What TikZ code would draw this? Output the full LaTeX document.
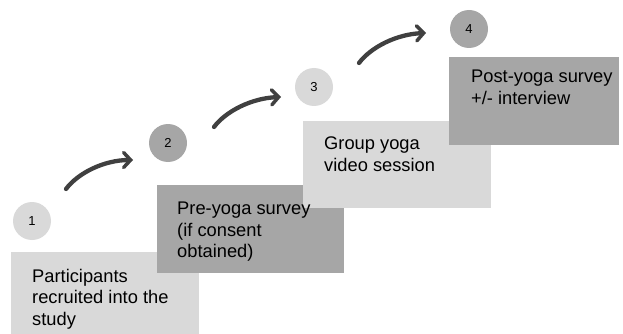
\documentclass[tikz,border=0pt]{standalone}
\usepackage{fontspec}
\setmainfont{Liberation Sans}
\usetikzlibrary{arrows.meta,calc}
\definecolor{lightbox}{HTML}{D9D9D9}
\definecolor{darkbox}{HTML}{A6A6A6}
\definecolor{arrowcol}{HTML}{404040}
\begin{document}
\begin{tikzpicture}[x=1pt,y=-1pt,
  stepbox/.style={rectangle,inner sep=0pt,anchor=north west,draw=none},
  steptext/.style={inner sep=0pt,anchor=north west,align=left,font=\fontsize{18.3}{21.5}\selectfont,text=black},
  num/.style={circle,inner sep=0pt,minimum size=38pt,font=\fontsize{13}{15}\selectfont,text=black},
  arr/.style={draw=arrowcol,line width=4.3pt,line cap=round,-{Straight Barb[length=7pt,width=15pt,line width=3.5pt,line cap=round]}}
]
\useasboundingbox (0,0) rectangle (623,334);
% boxes
\node[stepbox,fill=lightbox,minimum width=188pt,minimum height=82pt] (b1) at (11,252) {};
\node[stepbox,fill=darkbox,minimum width=187pt,minimum height=88pt] (b2) at (157,185) {};
\node[stepbox,fill=lightbox,minimum width=188pt,minimum height=87pt] (b3) at (303,121) {};
\node[stepbox,fill=darkbox,minimum width=170pt,minimum height=88pt] (b4) at (449,57) {};
% texts
\node[steptext] (t1) at ($(b1.north west)+(21,17)$) {Participants\\recruited into the\\study};
\node[steptext] (t2) at ($(b2.north west)+(20,17)$) {Pre-yoga survey\\(if consent\\obtained)};
\node[steptext] (t3) at ($(b3.north west)+(21,16)$) {Group yoga\\video session};
\node[steptext] (t4) at ($(b4.north west)+(22,13)$) {Post-yoga survey\\+/- interview};
% circles
\node[num,fill=lightbox] (c1) at (32,221) {1};
\node[num,fill=darkbox] (c2) at (168,143) {2};
\node[num,fill=lightbox] (c3) at (314,87) {3};
\node[num,fill=darkbox] (c4) at (469,29) {4};
% arrows
\coordinate (a1s) at (66,189);
\coordinate (a1e) at (133,160);
\coordinate (a2s) at (214,127);
\coordinate (a2e) at (281,97);
\coordinate (a3s) at (359,63);
\coordinate (a3e) at (426,33);
\draw[arr] (a1s) .. controls ($(a1s)+(12,-16)$) and ($(a1s)+(38,-29)$) .. (a1e);
\draw[arr] (a2s) .. controls ($(a2s)+(12,-16)$) and ($(a2s)+(38,-29)$) .. (a2e);
\draw[arr] (a3s) .. controls ($(a3s)+(12,-16)$) and ($(a3s)+(38,-29)$) .. (a3e);
\end{tikzpicture}
\end{document}
